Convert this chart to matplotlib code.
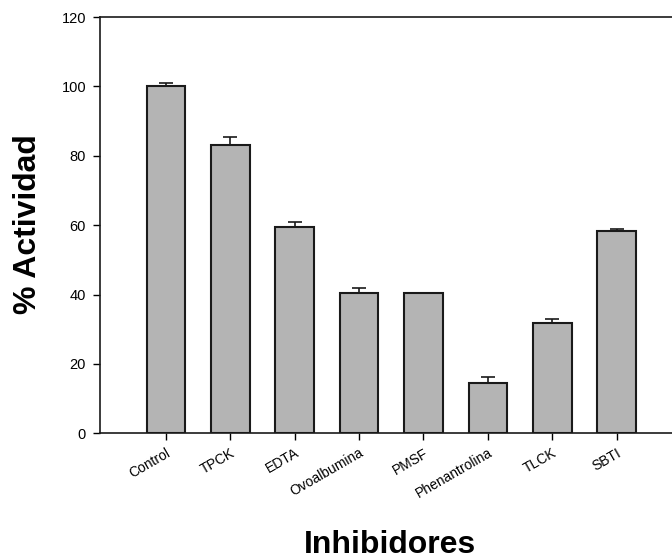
import matplotlib

matplotlib.use("Agg")

import matplotlib.pyplot as plt  # noqa: E402
import numpy as np  # noqa: E402

# % residual activity per inhibitor, with upper error only
inhibitors = ["Control", "TPCK", "EDTA", "Ovoalbumina", "PMSF",
              "Phenantrolina", "TLCK", "SBTI"]
activity = [100.0, 83.0, 59.4, 40.5, 40.5, 14.6, 31.8, 58.2]
error_up = [1.0, 2.4, 1.6, 1.4, 0.0, 1.5, 1.1, 0.8]

plt.rcParams["font.family"] = ["Liberation Sans", "DejaVu Sans"]

fig = plt.figure(figsize=(6.72, 5.6), dpi=100)
ax = fig.add_axes([0.1488, 0.2262, 0.8646, 0.7434])

x = np.arange(len(inhibitors))
ax.bar(x, activity, width=0.6, color="#b4b4b4", edgecolor="#1a1a1a",
       linewidth=1.5, zorder=2)
ax.errorbar(x, activity, yerr=[np.zeros(len(x)), error_up], fmt="none",
            ecolor="#1a1a1a", elinewidth=1.2, capsize=5, capthick=1.2, zorder=3)

ax.set_xlim(-1.025, 8.0)
ax.set_ylim(0, 120)
ax.set_yticks(range(0, 121, 20))
ax.set_xticks(x)
ax.set_xticklabels(inhibitors, rotation=30, ha="right", va="top",
                   rotation_mode="anchor", fontsize=10)
ax.tick_params(axis="y", labelsize=10.5, direction="out", length=5, width=1, pad=5)
ax.tick_params(axis="x", direction="out", length=5, width=1, pad=4)

ax.spines["right"].set_visible(False)
for side in ("left", "top", "bottom"):
    ax.spines[side].set_linewidth(1.2)
    ax.spines[side].set_color("#1a1a1a")

fig.text(0.042, 0.6, "% Actividad", rotation=90, ha="center", va="center",
         fontsize=23, fontweight="bold")
fig.text(0.58, 0.027, "Inhibidores", ha="center", va="center",
         fontsize=23, fontweight="bold")

fig.savefig("out.png", dpi=100)
